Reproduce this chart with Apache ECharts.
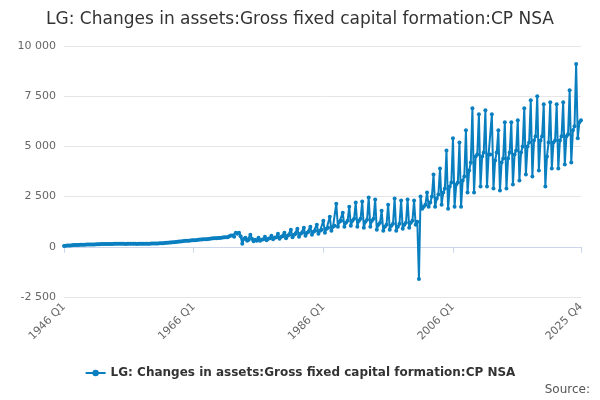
<!DOCTYPE html><html><head><meta charset="utf-8"><script src="https://cdn.jsdelivr.net/npm/echarts@6/dist/echarts.min.js"></script></head><body style="margin:0"><div id="c" style="width:600px;height:400px"></div><script>
const startYear = 1946;
// quarterly values, one row per year [Q1,Q2,Q3,Q4]
const yearly = [
[40,50,60,70],[70,80,85,90],[90,95,100,105],[100,105,110,110],[110,115,120,120],
[125,130,130,135],[135,140,140,140],[140,145,145,150],[150,150,155,150],[150,150,145,150],
[150,150,155,150],[150,145,150,150],[150,150,150,155],[155,150,160,160],[160,165,170,175],
[175,180,190,200],[200,210,220,230],[230,240,250,260],[270,280,290,300],[300,300,310,320],
[320,330,340,350],[360,360,370,380],[380,390,400,410],[420,420,430,440],[440,450,460,470],
[480,470,520,560],[560,500,700,650],[700,520,150,400],[450,300,350,600],[400,280,350,300],
[450,300,350,380],[500,320,400,420],[550,380,450,480],[650,400,500,520],[700,420,550,600],
[850,480,600,650],[900,500,650,700],[950,550,700,750],[1000,600,750,800],[1100,650,800,850],
[1300,700,900,950],[1500,800,1000,1050],[2150,1000,1250,1300],[1700,1000,1200,1300],[2000,1050,1300,1400],
[2200,1000,1300,1400],[2250,950,1250,1350],[2450,1000,1300,1400],[2350,850,1100,1200],[1800,800,1000,1100],
[2100,850,1050,1150],[2400,800,1000,1150],[2300,900,1100,1200],[2350,950,1200,1300],[2300,1100,1250,-1600],
[2500,1900,2000,2100],[2700,2000,2200,2500],[3600,2000,2400,2600],[3900,2100,2700,2900],[4800,1900,3000,3200],
[5400,2000,3100,3200],[5200,2000,3300,3500],[5800,2700,3800,4200],[6900,2700,4500,4600],[6600,3000,4500,4700],
[6800,3000,4600,4600],[6600,2900,4300,4700],[5800,2800,4200,4400],[6200,2900,4400,4700],[6200,3100,4600,4800],
[6300,3300,4700,5000],[6900,3600,5000,5200],[7300,3500,5300,5500],[7500,3800,5300,5500],[7100,3000,4500,5200],
[7200,3900,5200,5300],[7100,3900,5300,5500],[7200,4100,5500,5600],[7800,4200,5800,6000],[9100,5400,6200,6300]
];
const categories=[], values=[];
yearly.forEach((r,i)=>r.forEach((v,q)=>{categories.push((startYear+i)+' Q'+(q+1));values.push(v);}));
const shownLabels=['1946 Q1','1966 Q1','1986 Q1','2006 Q1','2025 Q4'];
const chart=echarts.init(document.getElementById('c'));
const col='#0a7fc0';
chart.setOption({
 title:{text:'LG: Changes in assets:Gross fixed capital formation:CP NSA',left:'center',top:6,textStyle:{fontSize:17,fontWeight:'normal',color:'#333',fontFamily:'DejaVu Sans'}},
 grid:{left:64,right:19,top:46,bottom:103},
 xAxis:{type:'category',data:categories,boundaryGap:false,
  axisLine:{lineStyle:{color:'#ccd6eb'}},
  axisTick:{interval:(i,v)=>shownLabels.includes(v)||(i%80===0),length:6,lineStyle:{color:'#ccd6eb'}},
  axisLabel:{interval:(i,v)=>shownLabels.includes(v),rotate:45,color:'#666',fontSize:11,fontFamily:'DejaVu Sans',showMaxLabel:true}},
 yAxis:{type:'value',min:-2500,max:10000,interval:2500,
  axisLabel:{color:'#666',fontSize:11,fontFamily:'DejaVu Sans',formatter:v=>String(v).replace(/\B(?=(\d{3})+(?!\d))/g,' ')},
  splitLine:{lineStyle:{color:'#e6e6e6'}}},
 legend:{bottom:16,left:'center',itemWidth:20,itemHeight:8,textStyle:{fontSize:12,fontWeight:'bold',color:'#333',fontFamily:'DejaVu Sans'}},
 graphic:[{type:'text',right:10,bottom:4,style:{text:'Source:',fill:'#555',fontSize:12,fontFamily:'DejaVu Sans'}}],
 series:[{name:'LG: Changes in assets:Gross fixed capital formation:CP NSA',type:'line',data:values,
  symbol:'circle',symbolSize:4,showAllSymbol:true,itemStyle:{color:col},lineStyle:{width:2,color:col}}]
});
</script></body></html>
